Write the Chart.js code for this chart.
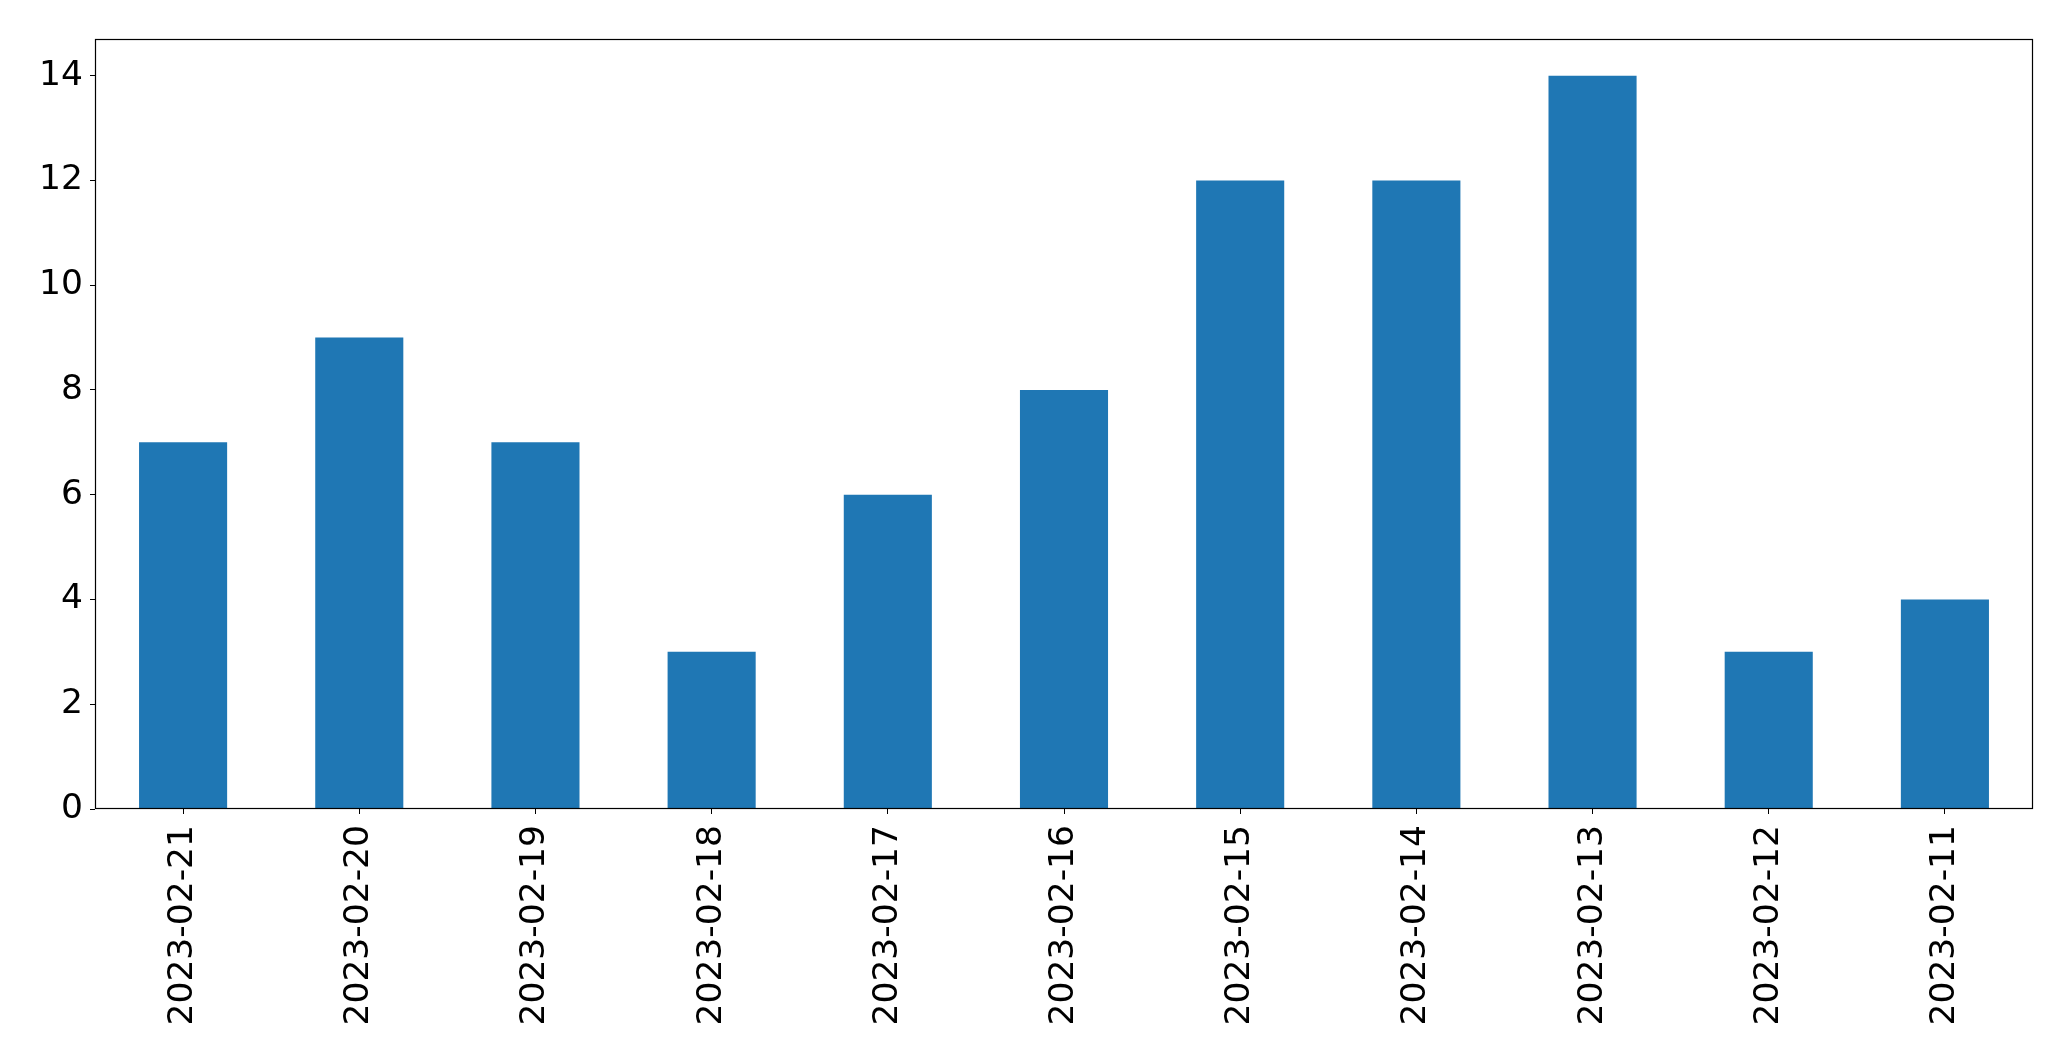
<!DOCTYPE html>
<html>
<head>
<meta charset="utf-8">
<script src="https://cdn.jsdelivr.net/npm/chart.js@4"></script>
<style>
  html, body { margin: 0; padding: 0; background: #fff; }
  canvas { display: block; }
</style>
</head>
<body>
<canvas id="myChart" width="2071" height="1061"></canvas>
<script>
const DATES = [
  '2023-02-21', '2023-02-20', '2023-02-19', '2023-02-18',
  '2023-02-17', '2023-02-16', '2023-02-15', '2023-02-14',
  '2023-02-13', '2023-02-12', '2023-02-11'
];
const COUNTS = [7, 9, 7, 3, 6, 8, 12, 12, 14, 3, 4];
const Y_TICKS = [0, 2, 4, 6, 8, 10, 12, 14];

// box around the plot area, like the matplotlib spines
const frame = {
  id: 'frame',
  afterDraw(chart) {
    const { ctx, chartArea: a } = chart;
    ctx.save();
    ctx.strokeStyle = '#000';
    ctx.lineWidth = 1.2;
    ctx.strokeRect(a.left + 0.5, a.top + 0.5, a.right - a.left - 1, a.bottom - a.top - 1);
    ctx.restore();
  }
};

const font = { family: 'DejaVu Sans', size: 34.5 };

const config = {
  type: 'bar',
  data: {
    labels: DATES,
    datasets: [{
      data: COUNTS,
      backgroundColor: '#1f77b4',
      borderWidth: 0,
      barPercentage: 0.5,
      categoryPercentage: 1.0
    }]
  },
  options: {
    responsive: false,
    devicePixelRatio: 1,
    animation: false,
    layout: {
      padding: { top: 39, right: 38, left: 0, bottom: 0 }
    },
    plugins: {
      legend: { display: false },
      tooltip: { enabled: false }
    },
    scales: {
      x: {
        afterFit: scale => { scale.height = 252; },
        grid: {
          display: true,
          offset: false,
          drawOnChartArea: false,
          drawTicks: true,
          tickLength: 5,
          tickColor: '#000'
        },
        border: { display: false },
        ticks: {
          color: '#000',
          font: font,
          autoSkip: false,
          minRotation: 90,
          maxRotation: 90,
          padding: 11
        }
      },
      y: {
        min: 0,
        max: 14.7,
        afterFit: scale => { scale.width = 95; },
        afterBuildTicks: scale => {
          scale.ticks = Y_TICKS.map(v => ({ value: v }));
        },
        grid: {
          display: true,
          drawOnChartArea: false,
          drawTicks: true,
          tickLength: 5,
          tickColor: '#000'
        },
        border: { display: false },
        ticks: {
          color: '#000',
          font: font,
          padding: 7,
          includeBounds: false
        }
      }
    }
  },
  plugins: [frame]
};

const ctx = document.getElementById('myChart');
const myChart = new Chart(ctx, config);
</script>
</body>
</html>
